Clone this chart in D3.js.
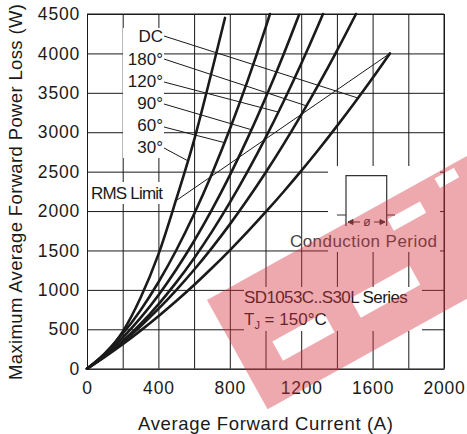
<!DOCTYPE html>
<html><head><meta charset="utf-8">
<script src="https://cdn.jsdelivr.net/npm/d3@7"></script>
<style>body{margin:0;background:#fff}svg{display:block}text{font-family:"Liberation Sans",Arial,sans-serif}</style>
</head><body>
<svg id="chart" width="467" height="434"></svg>
<script>
// ---------- data ----------
const xTickValues = [0, 400, 800, 1200, 1600, 2000];
const yTickValues = [0, 500, 1000, 1500, 2000, 2500, 3000, 3500, 4000, 4500];
const seriesNames = ["30°", "60°", "90°", "120°", "180°", "DC"];

const curr30 = [0, 100, 200, 300, 400, 500, 600, 700, 773];
const loss30 = [0, 190, 470, 900, 1450, 2150, 2900, 3780, 4450];
const curr60 = [0, 100, 200, 300, 400, 500, 600, 700, 800, 900, 1000, 1025];
const loss60 = [0, 195, 443, 743, 1097, 1503, 1962, 2474, 3037, 3654, 4324, 4500];
const curr90 = [0, 100, 200, 300, 400, 500, 600, 700, 800, 900, 1000, 1100, 1188];
const loss90 = [0, 178, 393, 644, 932, 1258, 1620, 2018, 2453, 2925, 3434, 3980, 4490];
const curr120 = [0, 100, 200, 300, 400, 500, 600, 700, 800, 900, 1000, 1100, 1200, 1300, 1322];
const loss120 = [0, 160, 349, 568, 817, 1095, 1402, 1739, 2106, 2502, 2928, 3383, 3868, 4383, 4500];
const curr180 = [0, 100, 200, 300, 400, 500, 600, 700, 800, 900, 1000, 1100, 1200, 1300, 1400, 1507];
const loss180 = [0, 160, 339, 539, 758, 997, 1255, 1533, 1831, 2149, 2486, 2843, 3220, 3616, 4033, 4500];
const currDC = [0, 100, 200, 300, 400, 500, 600, 700, 800, 900, 1000, 1100, 1200, 1300, 1400, 1500, 1600, 1697];
const lossDC = [0, 150, 311, 483, 666, 859, 1062, 1277, 1502, 1738, 1985, 2242, 2510, 2788, 3078, 3378, 3688, 4000];

// current at which each label's leader line meets its curve
const leaderCurrent = [565, 770, 921, 1072, 1229, 1518];
// RMS limit line (A, W)
const rmsCurrent = [504, 1697];
const rmsLoss = [2140, 4000];

const currents = [curr30, curr60, curr90, curr120, curr180, currDC];
const losses = [loss30, loss60, loss90, loss120, loss180, lossDC];

// ---------- layout ----------
const svg = d3.select("#chart");
const L = 87, R = 444, T = 14, B = 368.7;
const x = d3.scaleLinear().domain([0, 2000]).range([L, R]);
const y = d3.scaleLinear().domain([0, 4500]).range([B, T]);
const ink = "#1a1a1a";
const font = "Liberation Sans, Arial, sans-serif";

// grid via axes
const xGrid = d3.axisBottom(x).tickValues(d3.range(0, 2001, 200))
  .tickSizeInner(-(B - T)).tickSizeOuter(0).tickPadding(10)
  .tickFormat(d => xTickValues.includes(d) ? d : "");
const gx = svg.append("g").attr("transform", `translate(0,${B})`).call(xGrid);
gx.select(".domain").attr("stroke", ink);
gx.selectAll(".tick line").attr("stroke", ink).attr("stroke-width", 1);
gx.selectAll(".tick text").attr("font-size", 17.5).attr("fill", ink)
  .attr("font-family", font).attr("dy", "0.9em").attr("letter-spacing", 0.8);

const yGrid = d3.axisLeft(y).tickValues(yTickValues)
  .tickSizeInner(-(R - L)).tickSizeOuter(0).tickPadding(7).tickFormat(d => d);
const gy = svg.append("g").attr("transform", `translate(${L},0)`).call(yGrid);
gy.select(".domain").attr("stroke", ink);
gy.selectAll(".tick line").attr("stroke", ink).attr("stroke-width", 1);
gy.selectAll(".tick text").attr("font-size", 17.5).attr("fill", ink).attr("font-family", font)
  .attr("letter-spacing", 0.8);

// frame top/right
svg.append("line").attr("x1", L).attr("x2", R).attr("y1", T).attr("y2", T).attr("stroke", ink);
svg.append("line").attr("x1", R).attr("x2", R).attr("y1", T).attr("y2", B).attr("stroke", ink);

// white label backgrounds
const boxes = [[123, 28, 41, 130], [89, 182, 84, 22], [328, 166, 112, 86], [244, 287, 178, 44]];
svg.selectAll("rect.bg").data(boxes).join("rect").attr("class", "bg")
  .attr("x", d => d[0]).attr("y", d => d[1]).attr("width", d => d[2]).attr("height", d => d[3])
  .attr("fill", "#fff");

// curves
const line = d3.line().x(d => x(d[0])).y(d => y(d[1])).curve(d3.curveMonotoneX);
seriesNames.forEach((name, i) => {
  const pts = currents[i].map((c, j) => [c, losses[i][j]]);
  svg.append("path").datum(pts).attr("d", line)
    .attr("fill", "none").attr("stroke", ink).attr("stroke-width", 2.6)
    .attr("stroke-linecap", "round");
});

// labels + leaders
const labelBase = [153, 131, 109, 86.7, 64.5, 42];
const labelStartY = [148, 127, 104, 82, 59, 36];
seriesNames.forEach((name, i) => {
  const c = currents[i], l = losses[i];
  let k = 0; while (k < c.length - 2 && c[k + 1] < leaderCurrent[i]) k++;
  const t = (leaderCurrent[i] - c[k]) / (c[k + 1] - c[k]);
  const lv = l[k] + t * (l[k + 1] - l[k]);
  svg.append("line").attr("x1", 164).attr("y1", labelStartY[i])
    .attr("x2", x(leaderCurrent[i])).attr("y2", y(lv))
    .attr("stroke", ink).attr("stroke-width", 1);
  svg.append("text").attr("x", 163).attr("y", labelBase[i]).attr("text-anchor", "end")
    .attr("font-size", 17).attr("fill", ink).text(name);
});

// RMS limit
svg.append("line").attr("x1", x(rmsCurrent[0])).attr("y1", y(rmsLoss[0]))
  .attr("x2", x(rmsCurrent[1])).attr("y2", y(rmsLoss[1])).attr("stroke", ink).attr("stroke-width", 1);
svg.append("text").attr("x", 91).attr("y", 199).attr("font-size", 17).attr("fill", ink)
  .attr("letter-spacing", -0.8).text("RMS Limit");

// conduction period inset
svg.append("path").attr("d", "M337,215H346V175.7H386.7V215H395M346,215V226M386.7,215V226")
  .attr("fill", "none").attr("stroke", "#333").attr("stroke-width", 1.2);
svg.append("path").attr("d", "M348,222H360M374,222H385M348,222l5,-2.5v5zM385,222l-5,-2.5v5z")
  .attr("fill", "#333").attr("stroke", "#333").attr("stroke-width", 1);
svg.append("text").attr("x", 367).attr("y", 226).attr("text-anchor", "middle")
  .attr("font-size", 12).attr("fill", "#333").text("ø");
svg.append("text").attr("x", 290).attr("y", 247).attr("font-size", 17).attr("fill", "#444")
  .attr("textLength", 147).text("Conduction Period");

// series text
svg.append("text").attr("x", 244).attr("y", 303).attr("font-size", 17).attr("fill", ink)
  .attr("letter-spacing", -0.6).text("SD1053C..S30L Series");
const tj = svg.append("text").attr("x", 244).attr("y", 325).attr("font-size", 17).attr("fill", ink);
tj.append("tspan").text("T");
tj.append("tspan").attr("font-size", 11).attr("dy", 4).text("J");
tj.append("tspan").attr("dy", -4).text(" = 150°C");

// axis titles
svg.append("text").attr("x", 265.5).attr("y", 430).attr("text-anchor", "middle")
  .attr("font-size", 18.5).attr("fill", ink).attr("textLength", 255).text("Average Forward Current (A)");
svg.append("text").attr("transform", "translate(22,192) rotate(-90)").attr("text-anchor", "middle")
  .attr("font-size", 18.5).attr("fill", ink).attr("textLength", 376)
  .text("Maximum Average Forward Power Loss (W)");

// watermark logo (rotated band with white counters)
const O = [207, 300], ang = -29 * Math.PI / 180;
const U = [Math.cos(ang), Math.sin(ang)], V = [-Math.sin(ang), Math.cos(ang)];
const P = (u, v) => [O[0] + u * U[0] + v * V[0], O[1] + u * U[1] + v * V[1]];
const rectPath = (u0, v0, u1, v1) => {
  const pts = [P(u0, v0), P(u1, v0), P(u1, v1), P(u0, v1)];
  return "M" + pts.map(p => p.join(",")).join("L") + "Z";
};
const wm = rectPath(0, 0, 320, 125)
  + rectPath(37, 68, 96, 90)
  + rectPath(126, 68, 194, 90)
  + rectPath(197, 17, 234, 30)
  + rectPath(258, 4, 280, 15);
svg.append("path").attr("d", wm).attr("fill-rule", "evenodd")
  .attr("fill", "rgb(215,50,65)").attr("opacity", 0.42);
</script>
</body></html>
